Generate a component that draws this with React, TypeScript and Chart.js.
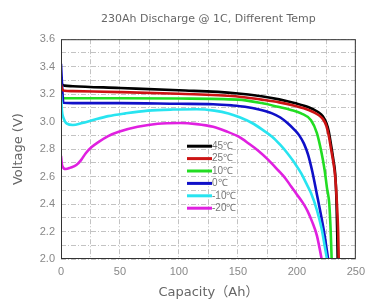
import { useEffect, useRef } from 'react';
import { Chart, registerables } from 'chart.js';
Chart.register(...registerables);

const chartTitle = '230Ah Discharge @ 1C, Different Temp';
const xTitle = 'Capacity（Ah）';
const yTitle = 'Voltage (V)';
const xRange = [0, 250];
const yRange = [2.0, 3.6];

const labels = ['45℃', '25℃', '10℃', '0℃', '-10℃', '-20℃'];
const colors = ['#000000', '#cc1414', '#22dd22', '#1010c8', '#28e4f0', '#e020e0'];

const cap45 = [0, 1, 3, 10, 50, 100, 148, 170, 185, 198, 210, 218, 222, 225, 227, 229, 231, 232.5, 233.5, 234.2, 234.6];
const volt45 = [3.3, 3.27, 3.262, 3.258, 3.245, 3.228, 3.207, 3.185, 3.162, 3.135, 3.105, 3.07, 3.04, 2.99, 2.93, 2.83, 2.72, 2.62, 2.45, 2.2, 2.0];

const cap25 = [0, 1, 3, 10, 50, 100, 148, 170, 185, 198, 210, 218, 222, 225, 227, 229, 231, 232.5, 234, 235, 235.5];
const volt25 = [3.27, 3.235, 3.225, 3.222, 3.215, 3.203, 3.185, 3.16, 3.14, 3.115, 3.085, 3.05, 3.02, 2.97, 2.9, 2.8, 2.7, 2.6, 2.4, 2.2, 2.0];

const cap10 = [0, 1, 3, 50, 100, 150, 170, 184, 195, 203.6, 212, 217, 221, 223.5, 225.5, 227.5, 228.7, 229.5];
const volt10 = [3.24, 3.18, 3.17, 3.17, 3.168, 3.16, 3.135, 3.108, 3.085, 3.06, 3.01, 2.916, 2.77, 2.65, 2.52, 2.4, 2.2, 2.0];

const cap0 = [0, 1, 2, 10, 50, 100, 129, 145, 156, 168, 179, 186, 192, 198, 202, 206, 209.5, 213, 217, 220, 223, 226.5];
const volt0 = [3.42, 3.25, 3.137, 3.135, 3.135, 3.13, 3.127, 3.118, 3.108, 3.088, 3.06, 3.03, 2.99, 2.94, 2.9, 2.84, 2.76, 2.64, 2.47, 2.34, 2.2, 2.0];

const capM10 = [0, 0.8, 2, 5, 10, 18, 26.5, 40, 54.6, 73.7, 95, 115, 130, 142, 152, 162, 171, 179, 186, 192, 198, 203.6, 208, 212, 217, 221, 223.5, 225.5];
const voltM10 = [3.2, 3.08, 3.03, 2.985, 2.975, 2.99, 3.01, 3.04, 3.06, 3.08, 3.088, 3.09, 3.08, 3.06, 3.03, 2.99, 2.94, 2.89, 2.83, 2.77, 2.7, 2.625, 2.55, 2.48, 2.356, 2.22, 2.1, 2.0];

const capM20 = [0, 1, 4, 8, 13, 17, 21, 26, 32, 40, 49, 65, 82, 101, 115, 129, 140, 150.7, 160, 167, 176, 184, 190, 195, 200, 205, 209, 213, 217, 221];
const voltM20 = [2.75, 2.68, 2.655, 2.665, 2.684, 2.72, 2.77, 2.815, 2.853, 2.895, 2.926, 2.962, 2.985, 2.99, 2.982, 2.962, 2.93, 2.89, 2.835, 2.79, 2.72, 2.647, 2.59, 2.53, 2.47, 2.41, 2.35, 2.27, 2.17, 2.0];

const capSeries = [cap45, cap25, cap10, cap0, capM10, capM20];
const voltSeries = [volt45, volt25, volt10, volt0, voltM10, voltM20];

const TICK_FONT = "'Liberation Sans', Arial, sans-serif";
const TEXT_FONT = "'DejaVu Sans', 'Noto Sans CJK SC', sans-serif";

export default function App() {
  const ref = useRef<HTMLCanvasElement>(null);
  useEffect(() => {
    document.body.style.margin = '0';
    const canvas = ref.current!;
    const datasets = labels.map((l, i) => ({
      label: l,
      data: capSeries[i].map((x, j) => ({ x, y: voltSeries[i][j] })),
      borderColor: colors[i],
      backgroundColor: colors[i],
      borderWidth: 2.6,
      pointRadius: 0,
      cubicInterpolationMode: 'monotone' as const,
      order: i === 1 ? 0 : 6 - i,
    }));

    const framePlugin = {
      id: 'frame',
      afterDatasetsDraw(chart: any) {
        const { ctx, chartArea: a } = chart;
        ctx.save();
        ctx.strokeStyle = '#333';
        ctx.lineWidth = 1;
        ctx.strokeRect(a.left + 0.5, a.top + 0.5, a.right - a.left - 1, a.bottom - a.top - 1);
        const lx = a.left + 126;
        let ly = a.top + 107;
        ctx.font = `10px ${TICK_FONT}`;
        ctx.textBaseline = 'middle';
        ctx.textAlign = 'left';
        labels.forEach((l, i) => {
          ctx.strokeStyle = colors[i];
          ctx.lineWidth = 3;
          ctx.beginPath();
          ctx.moveTo(lx, ly);
          ctx.lineTo(lx + 25, ly);
          ctx.stroke();
          ctx.fillStyle = '#777';
          ctx.fillText(l, lx + 25, ly);
          ly += 12.4;
        });
        ctx.restore();
      },
    };

    const chart = new Chart(canvas, {
      type: 'line',
      data: { datasets },
      plugins: [framePlugin],
      options: {
        animation: false,
        responsive: false,
        devicePixelRatio: 1,
        layout: { padding: { left: 11, right: 8, top: 0, bottom: 0 } },
        plugins: {
          legend: { display: false },
          tooltip: { enabled: false },
          title: {
            display: true,
            text: chartTitle,
            fullSize: false,
            color: '#666',
            font: { family: TEXT_FONT, size: 11, weight: 'normal' },
            padding: { top: 13, bottom: 13 },
          },
        },
        scales: {
          x: {
            type: 'linear',
            min: xRange[0],
            max: xRange[1],
            afterFit: (s: any) => { s.height = 41; },
            ticks: {
              stepSize: 25,
              autoSkip: false,
              maxRotation: 0,
              color: '#888',
              padding: 6,
              font: { family: TICK_FONT, size: 11 },
              callback: (v: any) => (Number(v) % 50 === 0 ? String(v) : ''),
            },
            grid: { color: '#b4b4b4', lineWidth: 0.8, drawTicks: false },
            border: { display: false, dash: [5, 2, 1, 2] },
            title: { display: true, text: xTitle, color: '#666', font: { family: TEXT_FONT, size: 13 }, padding: { top: 2, bottom: 0 } },
          },
          y: {
            type: 'linear',
            min: yRange[0],
            max: yRange[1],
            afterFit: (s: any) => { s.width = 50; },
            ticks: {
              stepSize: 0.1,
              autoSkip: false,
              color: '#888',
              padding: 6,
              font: { family: TICK_FONT, size: 11 },
              callback: (v: any) => (Math.round(Number(v) * 10) % 2 === 0 ? Number(v).toFixed(1) : ''),
            },
            grid: { color: '#b4b4b4', lineWidth: 0.8, drawTicks: false },
            border: { display: false, dash: [5, 2, 1, 2] },
            title: { display: true, text: yTitle, color: '#666', font: { family: TEXT_FONT, size: 13 }, padding: { top: 0, bottom: 4 } },
          },
        },
      },
    });
    return () => chart.destroy();
  }, []);
  return <canvas ref={ref} width={371} height={300} />;
}
